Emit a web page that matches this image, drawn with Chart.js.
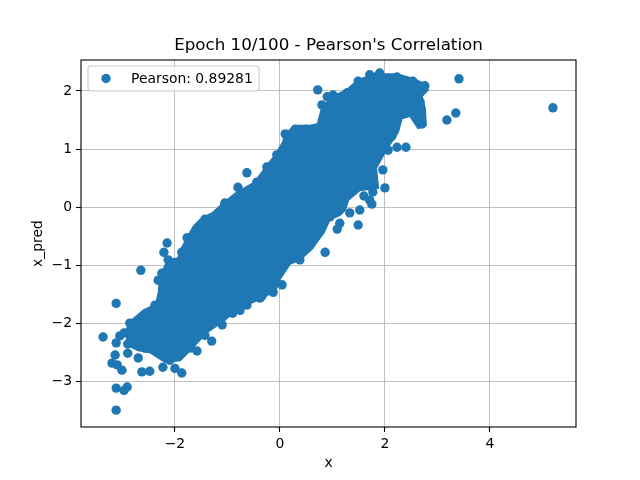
<!DOCTYPE html>
<html>
<head>
<meta charset="utf-8">
<script src="https://cdn.jsdelivr.net/npm/chart.js@4/dist/chart.umd.min.js"></script>
<style>
  html, body { margin: 0; padding: 0; background: #fff; }
  #wrap { width: 640px; height: 480px; }
</style>
</head>
<body>
<div id="wrap"><canvas id="chart" width="640" height="480"></canvas></div>
<script>
// 軸の目盛り
const xTicks = [-2, 0, 2, 4];
const yTicks = [-3, -2, -1, 0, 1, 2];

// 点が重なって塗りつぶされた部分の輪郭 (x, x_pred)
const coreX = [-2.90, -2.93, -2.82, -2.61, -2.36, -2.31, -2.29, -2.25, -2.13, -1.94, -1.87, -1.75, -1.64, -1.52, -1.41, -1.28,
  -1.10, -0.84, -0.53, -0.42, -0.27, -0.10, 0.06, 0.10, 0.29, 0.57, 0.72, 0.80, 1.01, 1.28, 1.49, 1.83, 2.23, 2.53, 2.76,
  2.82, 2.70, 2.76, 2.78, 2.63, 2.48, 2.32, 2.25, 2.02, 1.83, 1.87, 1.52, 1.30, 1.24, 1.14, 0.95, 0.84, 0.61, 0.38, 0.19,
  0.00, -0.08, -0.34, -0.65, -0.91, -1.10, -1.41, -1.64, -1.90, -2.19, -2.48, -2.70];
const coreY = [-2.38, -2.12, -1.95, -1.79, -1.67, -1.47, -1.26, -1.12, -0.91, -0.88, -0.71, -0.50, -0.33, -0.22, -0.16, -0.10,
  0.05, 0.24, 0.40, 0.50, 0.69, 0.88, 1.12, 1.26, 1.40, 1.40, 1.43, 1.71, 1.91, 2.02, 2.19, 2.29, 2.29, 2.21, 2.12,
  2.02, 1.91, 1.71, 1.41, 1.36, 1.57, 1.53, 1.29, 0.98, 0.67, 0.33, 0.29, 0.12, -0.05, -0.14, -0.21, -0.43, -0.72, -0.91, -0.98,
  -1.24, -1.43, -1.57, -1.69, -1.84, -1.98, -2.17, -2.40, -2.64, -2.67, -2.50, -2.47];

// 輪郭の外や縁に見える個々の点
const ptX = [-3.12, -3.37, -3.12, -3.05, -2.97, -2.90, -2.90, -3.14, -3.20, -3.10, -3.01, -2.70, -2.63, -2.48, -2.57, -2.23,
  -2.00, -1.87, -1.58, -1.30, -1.10, -3.12, -2.91, -2.97, -3.12, -2.65, -2.21, -2.15, -1.77, -0.63, 0.72, 5.20, 3.41, 3.35,
  3.18, 2.40, 2.23, 1.96, 2.00, 1.75, 1.52, 1.49, 1.09, 1.33, 0.86, 0.38, 0.04, 2.67, 2.61, 2.70, 2.57, 2.38, 1.49, 1.83,
  2.23, 2.53, 2.76, 0.17, 0.29, 0.50, 0.69, 0.80, 1.01, -1.66, -1.43, -0.44, -0.25, -2.13, -2.25, -2.55, -2.86, -0.34,
  -0.76, 2.06, 2.13, 1.60, 1.77,
  -0.80, -1.05, -1.24, -2.32, -0.06, 0.13, -1.87, -2.38, -0.90, -0.63, -0.38, -0.13, 0.10, 0.19, 0.90, 1.28, 1.71, 1.90,
  1.71, 1.14, 0.95, -2.10, -1.71, -1.43];
const ptY = [-1.66, -2.24, -2.34, -2.22, -2.17, -2.36, -2.52, -2.55, -2.69, -2.72, -2.81, -2.60, -2.84, -2.83, -2.43, -2.76,
  -2.78, -2.86, -2.48, -2.31, -2.03, -3.12, -3.10, -3.16, -3.50, -1.09, -0.78, -0.62, -0.53, 0.59, 2.02, 1.71, 2.21, 1.62,
  1.50, 1.03, 1.03, 0.64, 0.33, 0.05, -0.05, -0.31, -0.38, -0.10, -0.78, -0.91, -1.34, 1.81, 1.53, 1.43, 1.67, 1.62, 2.17, 2.24,
  2.24, 2.17, 2.09, 1.21, 1.34, 1.34, 1.33, 1.76, 1.93, -0.52, -0.21, 0.43, 0.69, -0.91, -1.14, -1.83, -2.00, -1.53,
  -1.78, 0.98, 1.22, 0.19, 0.26,
  0.34, 0.07, -0.22, -1.26, 0.90, 1.07, -0.78, -1.69, -1.83, -1.69, -1.57, -1.47, 1.26, 1.12, 1.90, 1.97, 2.28, 2.31,
  0.12, -0.28, -0.17, -2.64, -2.43, -2.21];

const seriesLabel = 'Pearson: 0.89281';
const titleText = "Epoch 10/100 - Pearson's Correlation";
const blue = '#1f77b4';
const font = 'DejaVu Sans';

const corePoints = coreX.map((x, i) => ({ x: x, y: coreY[i] }));
corePoints.push({ x: coreX[0], y: coreY[0] });
const points = ptX.map((x, i) => ({ x: x, y: ptY[i] }));

// matplotlib風のマイナス記号
const fmt = v => (v < 0 ? '\u2212' + Math.abs(v) : String(v));

// タイトル・軸ラベル・凡例・枠を描く
const mplDecor = {
  id: 'mplDecor',
  afterDraw(chart) {
    const ctx = chart.ctx;
    const a = chart.chartArea;
    ctx.save();
    ctx.strokeStyle = '#000';
    ctx.lineWidth = 1.1;
    ctx.strokeRect(a.left, a.top, a.right - a.left, a.bottom - a.top);

    ctx.fillStyle = '#000';
    ctx.textAlign = 'center';
    ctx.textBaseline = 'alphabetic';
    ctx.font = '16.7px "' + font + '"';
    ctx.fillText(titleText, (a.left + a.right) / 2, 50);

    ctx.font = '13.9px "' + font + '"';
    ctx.fillText('x', (a.left + a.right) / 2, 467);
    ctx.save();
    ctx.translate(42, (a.top + a.bottom) / 2);
    ctx.rotate(-Math.PI / 2);
    ctx.fillText('x_pred', 0, 0);
    ctx.restore();

    // 凡例
    const lx = a.left + 7, ly = a.top + 6, lw = 171, lh = 25, r = 3;
    ctx.beginPath();
    ctx.moveTo(lx + r, ly);
    ctx.arcTo(lx + lw, ly, lx + lw, ly + lh, r);
    ctx.arcTo(lx + lw, ly + lh, lx, ly + lh, r);
    ctx.arcTo(lx, ly + lh, lx, ly, r);
    ctx.arcTo(lx, ly, lx + lw, ly, r);
    ctx.closePath();
    ctx.fillStyle = 'rgba(255,255,255,0.8)';
    ctx.fill();
    ctx.strokeStyle = '#cccccc';
    ctx.lineWidth = 1.1;
    ctx.stroke();

    ctx.beginPath();
    ctx.arc(lx + 18, ly + 12.5, 4.7, 0, Math.PI * 2);
    ctx.fillStyle = blue;
    ctx.fill();

    ctx.fillStyle = '#000';
    ctx.textAlign = 'left';
    ctx.fillText(seriesLabel, lx + 43, ly + 17);
    ctx.restore();
  }
};

const axisCommon = {
  type: 'linear',
  z: 1,
  border: { display: false },
  grid: { color: '#b0b0b0', lineWidth: 0.8, tickColor: '#000', tickLength: 5, tickWidth: 1.1 },
  ticks: {
    color: '#000',
    font: { family: font, size: 13.9 },
    padding: 4,
    autoSkip: false,
    maxRotation: 0,
    callback: v => fmt(v)
  }
};

new Chart(document.getElementById('chart'), {
  type: 'scatter',
  data: {
    datasets: [
      {
        label: 'core',
        data: corePoints,
        showLine: true,
        fill: 'shape',
        tension: 0,
        borderColor: blue,
        backgroundColor: blue,
        borderWidth: 2,
        pointRadius: 0,
        pointHoverRadius: 0
      },
      {
        label: seriesLabel,
        data: points,
        backgroundColor: blue,
        borderWidth: 0,
        pointRadius: 4.7,
        pointHoverRadius: 4.7
      }
    ]
  },
  options: {
    responsive: false,
    animation: false,
    events: [],
    layout: { padding: { top: 60, right: 64, left: 0, bottom: 0 } },
    plugins: {
      legend: { display: false },
      title: { display: false },
      tooltip: { enabled: false }
    },
    scales: {
      x: Object.assign({}, axisCommon, {
        min: -3.79,
        max: 5.64,
        afterBuildTicks: s => { s.ticks = xTicks.map(v => ({ value: v })); },
        afterFit: s => { s.height = 53; }
      }),
      y: Object.assign({}, axisCommon, {
        min: -3.79,
        max: 2.534,
        afterBuildTicks: s => { s.ticks = yTicks.map(v => ({ value: v })); },
        afterFit: s => { s.width = 81; }
      })
    }
  },
  plugins: [mplDecor]
});
</script>
</body>
</html>
